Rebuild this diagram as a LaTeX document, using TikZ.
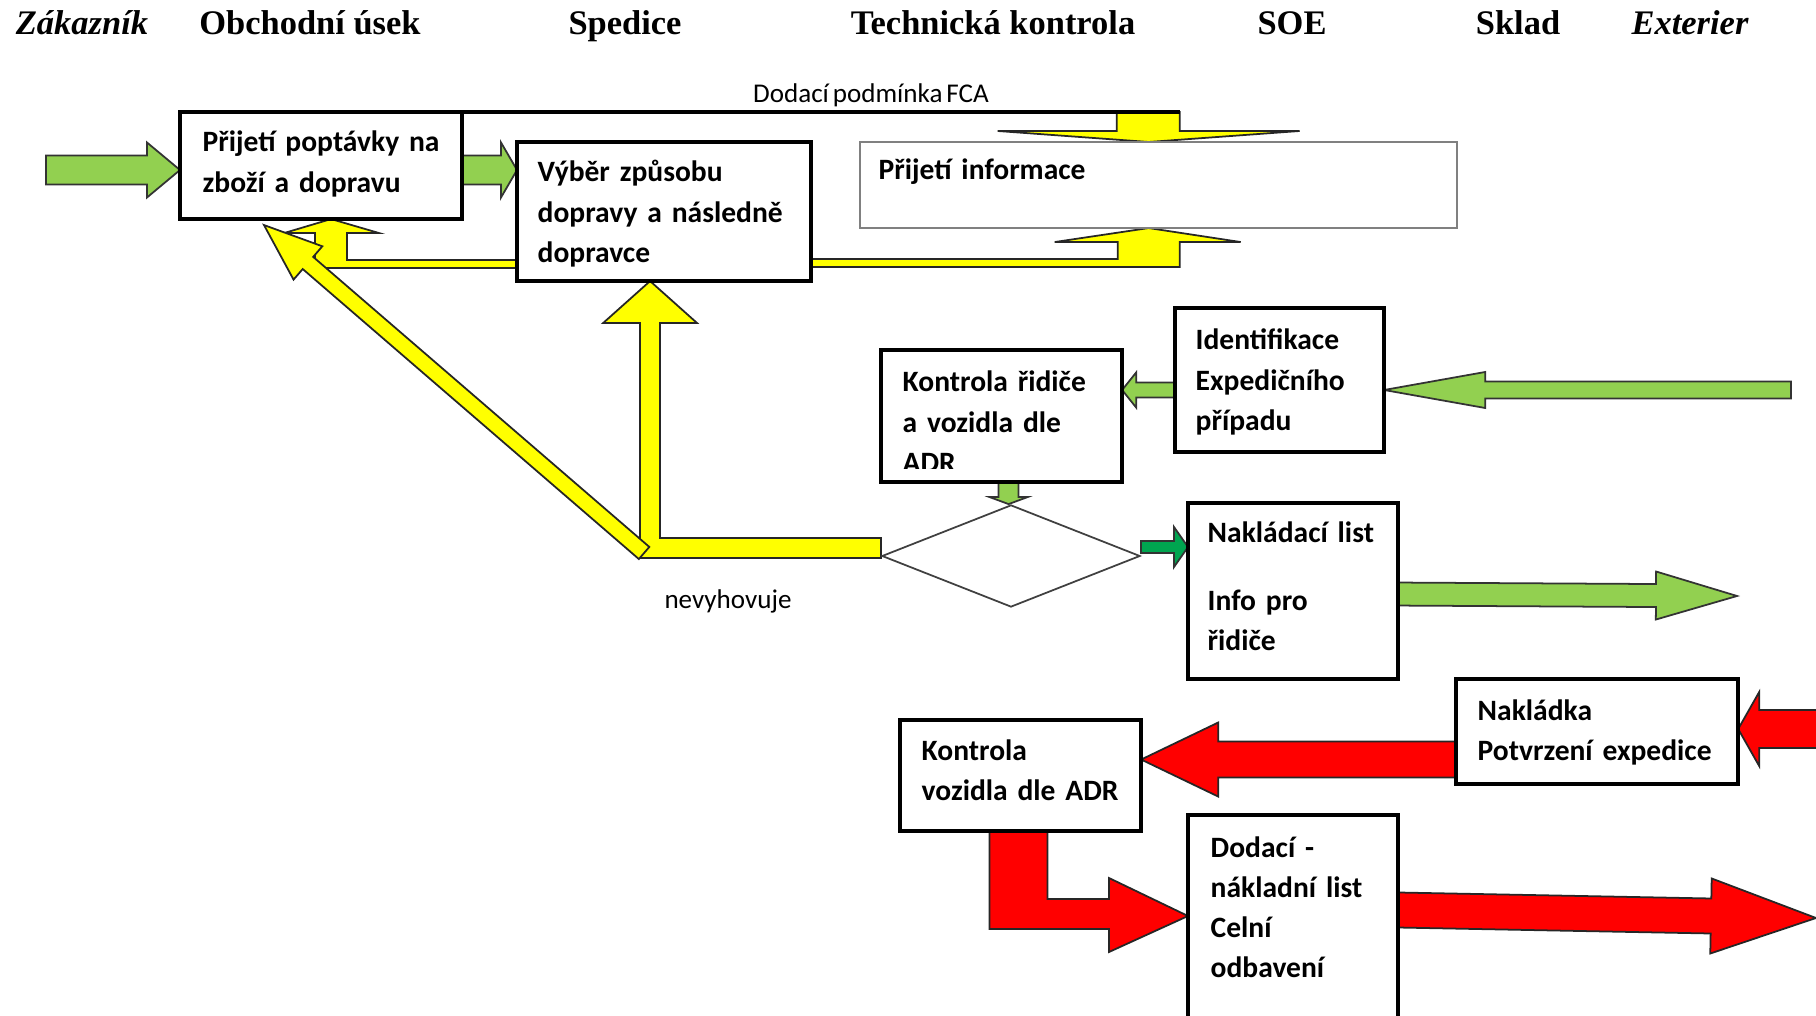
\documentclass[tikz,border=0pt]{standalone}
\usepackage{fontspec}
\setmainfont{Liberation Serif}
\newfontfamily\boxfont[WordSpace=0.65]{Carlito}
\usetikzlibrary{calc,shapes.geometric}

\definecolor{zelena}{HTML}{92D050}
\definecolor{tmavezelena}{HTML}{00A550}
\definecolor{zluta}{HTML}{FFFF00}
\definecolor{cervena}{HTML}{FF0000}

\pgfdeclarelayer{pozadi}
\pgfsetlayers{pozadi,main}

% blokova sipka: styl, zacatek, hrot, pul driku, pul hlavy, delka hlavy
\newcommand{\sipka}[6]{%
  \coordinate (sipka-b) at ($(#3)!#6!(#2)$);
  \draw[#1] ($(#2)!#4!90:(#3)$) -- ($(sipka-b)!#4!90:(#3)$)
    -- ($(sipka-b)!#5!90:(#3)$) -- (#3)
    -- ($(sipka-b)!#5!-90:(#3)$) -- ($(sipka-b)!#4!-90:(#3)$)
    -- ($(#2)!#4!-90:(#3)$) -- cycle;
}

\begin{document}
\begin{tikzpicture}[x=0.01cm,y=-0.01cm,
  box/.style={draw=black,line width=1pt,fill=white,inner sep=0pt,outer sep=0pt,anchor=north west},
  txt/.style={font=\boxfont\bfseries\fontsize{8.4}{11.4}\selectfont,align=left,inner sep=0pt,anchor=base west,text width=3.2cm},
  hlava/.style={font=\bfseries\fontsize{9.8}{12}\selectfont,inner sep=0pt,anchor=base},
  popis/.style={font=\boxfont\fontsize{7.7}{9}\selectfont,inner sep=0pt,anchor=base},
  zelenasip/.style={fill=zelena,draw=black!80,line width=0.5pt},
  tmavesip/.style={fill=tmavezelena,draw=black!80,line width=0.5pt},
  zlutasip/.style={fill=zluta,draw=black!85,line width=0.5pt},
  cervenasip/.style={fill=cervena,draw=black!85,line width=0.5pt}]

\useasboundingbox (0,0) rectangle (1816,1016);
\clip (0,0) rectangle (1816,1016);

% Zahlavi sloupcu
\node[hlava] (zakaznik) at (82,35) {\itshape Zákazník};
\node[hlava] (obchod) at (310,35) {Obchodní úsek};
\node[hlava] (spedice) at (625,35) {Spedice};
\node[hlava] (technicka) at (993,35) {Technická kontrola};
\node[hlava] (soe) at (1292,35) {SOE};
\node[hlava] (sklad) at (1518,35) {Sklad};
\node[hlava] (exterier) at (1690,35) {\itshape Exterier};

% Bloky
\node[box,minimum width=2.82cm,minimum height=1.07cm] (A) at (180,112) {};
\node[box,minimum width=2.94cm,minimum height=1.39cm] (B) at (517,142) {};
\node[box,draw=black!50,line width=0.6pt,minimum width=5.97cm,minimum height=0.86cm] (Info) at (860,142) {};
\node[box,minimum width=2.41cm,minimum height=1.32cm] (C) at (881,350) {};
\node[box,minimum width=2.09cm,minimum height=1.44cm] (D) at (1175,308) {};
\node[draw=black!75,line width=0.5pt,diamond,minimum width=2.58cm,minimum height=1.02cm,inner sep=0pt] (R) at (1011,556) {};
\node[box,minimum width=2.10cm,minimum height=1.76cm] (E) at (1188,503) {};
\node[box,minimum width=2.82cm,minimum height=1.05cm] (F) at (1456,679) {};
\node[box,minimum width=2.41cm,minimum height=1.11cm] (G) at (900,720) {};
\node[box,minimum width=2.10cm,minimum height=2.15cm] (H) at (1188,815) {};

% Texty v blocich
\node[txt] (A-t) at ($(A.north west)+(22,40)$) {Přijetí poptávky na\\zboží a dopravu};
\node[txt] (B-t) at ($(B.north west)+(20,40)$) {Výběr způsobu\\dopravy a následně\\dopravce};
\node[txt] (Info-t) at ($(Info.north west)+(18,38)$) {Přijetí informace};
\begin{scope}
  \clip ($(C.north west)+(2,2)$) rectangle ($(C.south east)+(-2,-14)$);
  \node[txt] (C-t) at ($(C.north west)+(21,42)$) {Kontrola řidiče\\a vozidla dle\\ADR};
\end{scope}
\node[txt] (D-t) at ($(D.north west)+(20,42)$) {Identifikace\\Expedičního\\případu};
\node[txt] (E-t) at ($(E.north west)+(19,39)$) {Nakládací list\\[0.28cm]Info pro\\řidiče};
\node[txt] (F-t) at ($(F.north west)+(21,41)$) {Nakládka\\Potvrzení expedice};
\node[txt] (G-t) at ($(G.north west)+(21,40)$) {Kontrola\\vozidla dle ADR};
\node[txt] (H-t) at ($(H.north west)+(22,42)$) {Dodací -\\nákladní list\\Celní\\odbavení};

% Popisky
\node[popis] (fca) at (871,103) {Dodací podmínka FCA};
\node[popis] (nevyhovuje) at (728,608) {nevyhovuje};

\begin{pgfonlayer}{pozadi}
% Zelene sipky
\coordinate (g1-s) at (46,170);
\coordinate (g1-t) at (A.west |- g1-s);
\sipka{zelenasip}{g1-s}{g1-t}{0.145cm}{0.275cm}{0.33cm}
\coordinate (g2-s) at (A.east |- g1-s);
\coordinate (g2-t) at (B.west |- g1-s);
\sipka{zelenasip}{g2-s}{g2-t}{0.145cm}{0.275cm}{0.16cm}
\coordinate (g3-s) at (1791,390);
\coordinate (g3-t) at (D.east |- g3-s);
\sipka{zelenasip}{g3-s}{g3-t}{0.085cm}{0.18cm}{1.01cm}
\coordinate (g4-s) at (D.west |- g3-s);
\coordinate (g4-t) at (C.east |- g3-s);
\sipka{zelenasip}{g4-s}{g4-t}{0.075cm}{0.175cm}{0.14cm}
\coordinate (g5-s) at ($(C.south)+(7,0)$);
\coordinate (g5-t) at (g5-s |- R.north);
\sipka{zelenasip}{g5-s}{g5-t}{0.10cm}{0.19cm}{0.07cm}
\coordinate (g6-s) at ($(R.east)+(0,-9)$);
\coordinate (g6-t) at (E.west |- g6-s);
\sipka{tmavesip}{g6-s}{g6-t}{0.06cm}{0.20cm}{0.14cm}
\coordinate (g7-s) at ($(E.east)+(0,3)$);
\coordinate (g7-t) at (1737,596);
\sipka{zelenasip}{g7-s}{g7-t}{0.115cm}{0.24cm}{0.81cm}

% Cervene sipky
\coordinate (r1-s) at (1840,729);
\coordinate (r1-t) at (F.east |- r1-s);
\sipka{cervenasip}{r1-s}{r1-t}{0.19cm}{0.37cm}{0.21cm}
\coordinate (r2-s) at ($(F.west)+(0,28)$);
\coordinate (r2-t) at (G.east |- r2-s);
\sipka{cervenasip}{r2-s}{r2-t}{0.18cm}{0.37cm}{0.77cm}
\coordinate (r3-s) at ($(G.south)+(-2,0)$);
\coordinate (r3-t) at ($(H.north west)+(0,101)$);
\draw[cervenasip] ($(r3-s)+(-29,0)$) -- ($(r3-s |- r3-t)+(-29,13)$) -- ($(r3-t)+(-79,13)$)
  -- ($(r3-t)+(-79,36)$) -- (r3-t) -- ($(r3-t)+(-79,-38)$) -- ($(r3-t)+(-79,-17)$)
  -- ($(r3-s |- r3-t)+(29,-17)$) -- ($(r3-s)+(29,0)$) -- cycle;
\coordinate (r4-s) at ($(H.north east)+(0,95)$);
\coordinate (r4-t) at (1816,918);
\sipka{cervenasip}{r4-s}{r4-t}{0.175cm}{0.375cm}{1.05cm}

% Zlute sipky
\coordinate (yd-t) at ($(Info.north)+(-10,0)$);
\draw[zlutasip] ($(yd-t)+(-32,-30)$) -- ($(yd-t)+(-32,-11)$) -- ($(yd-t)+(-151,-11)$) -- (yd-t)
  -- ($(yd-t)+(151,-11)$) -- ($(yd-t)+(31,-11)$) -- ($(yd-t)+(31,-30)$) -- cycle;
\draw[line width=1pt] (A.north east) -- ($(yd-t)+(31,-30)$);

\coordinate (yu-s) at ($(B.north east)+(0,121)$);
\coordinate (yu-t) at ($(Info.south)+(-10,0)$);
\draw[zlutasip] ($(yu-s)+(0,-4)$) -- ($(yu-t |- yu-s)+(-31,-4)$) -- ($(yu-t)+(-31,14)$)
  -- ($(yu-t)+(-94,14)$) -- (yu-t) -- ($(yu-t)+(92,14)$) -- ($(yu-t)+(31,14)$)
  -- ($(yu-t |- yu-s)+(31,4)$) -- ($(yu-s)+(0,4)$) -- cycle;

\coordinate (ya-s) at ($(B.north west)+(0,122)$);
\coordinate (ya-t) at ($(A.south)+(10,0)$);
\draw[zlutasip] ($(ya-s)+(0,-4)$) -- ($(ya-t |- ya-s)+(16,-4)$) -- ($(ya-t)+(16,14)$)
  -- ($(ya-t)+(48,14)$) -- (ya-t) -- ($(ya-t)+(-47,14)$) -- ($(ya-t)+(-16,14)$)
  -- ($(ya-t |- ya-s)+(-16,4)$) -- ($(ya-s)+(0,4)$) -- cycle;

\coordinate (yl-s) at ($(R.west)+(0,-8)$);
\coordinate (yl-t) at ($(B.south)+(-14,0)$);
\draw[zlutasip] ($(yl-s)+(0,-10)$) -- ($(yl-t |- yl-s)+(10,-10)$) -- ($(yl-t)+(10,42)$)
  -- ($(yl-t)+(47,42)$) -- (yl-t) -- ($(yl-t)+(-47,42)$) -- ($(yl-t)+(-10,42)$)
  -- ($(yl-t |- yl-s)+(-10,10)$) -- ($(yl-s)+(0,10)$) -- cycle;

\coordinate (yd2-s) at ($(yl-t |- yl-s)+(-6,5)$);
\coordinate (yd2-t) at ($(A.south west)+(84,6)$);
\sipka{zlutasip}{yd2-s}{yd2-t}{0.08cm}{0.22cm}{0.58cm}
\end{pgfonlayer}

\end{tikzpicture}
\end{document}
